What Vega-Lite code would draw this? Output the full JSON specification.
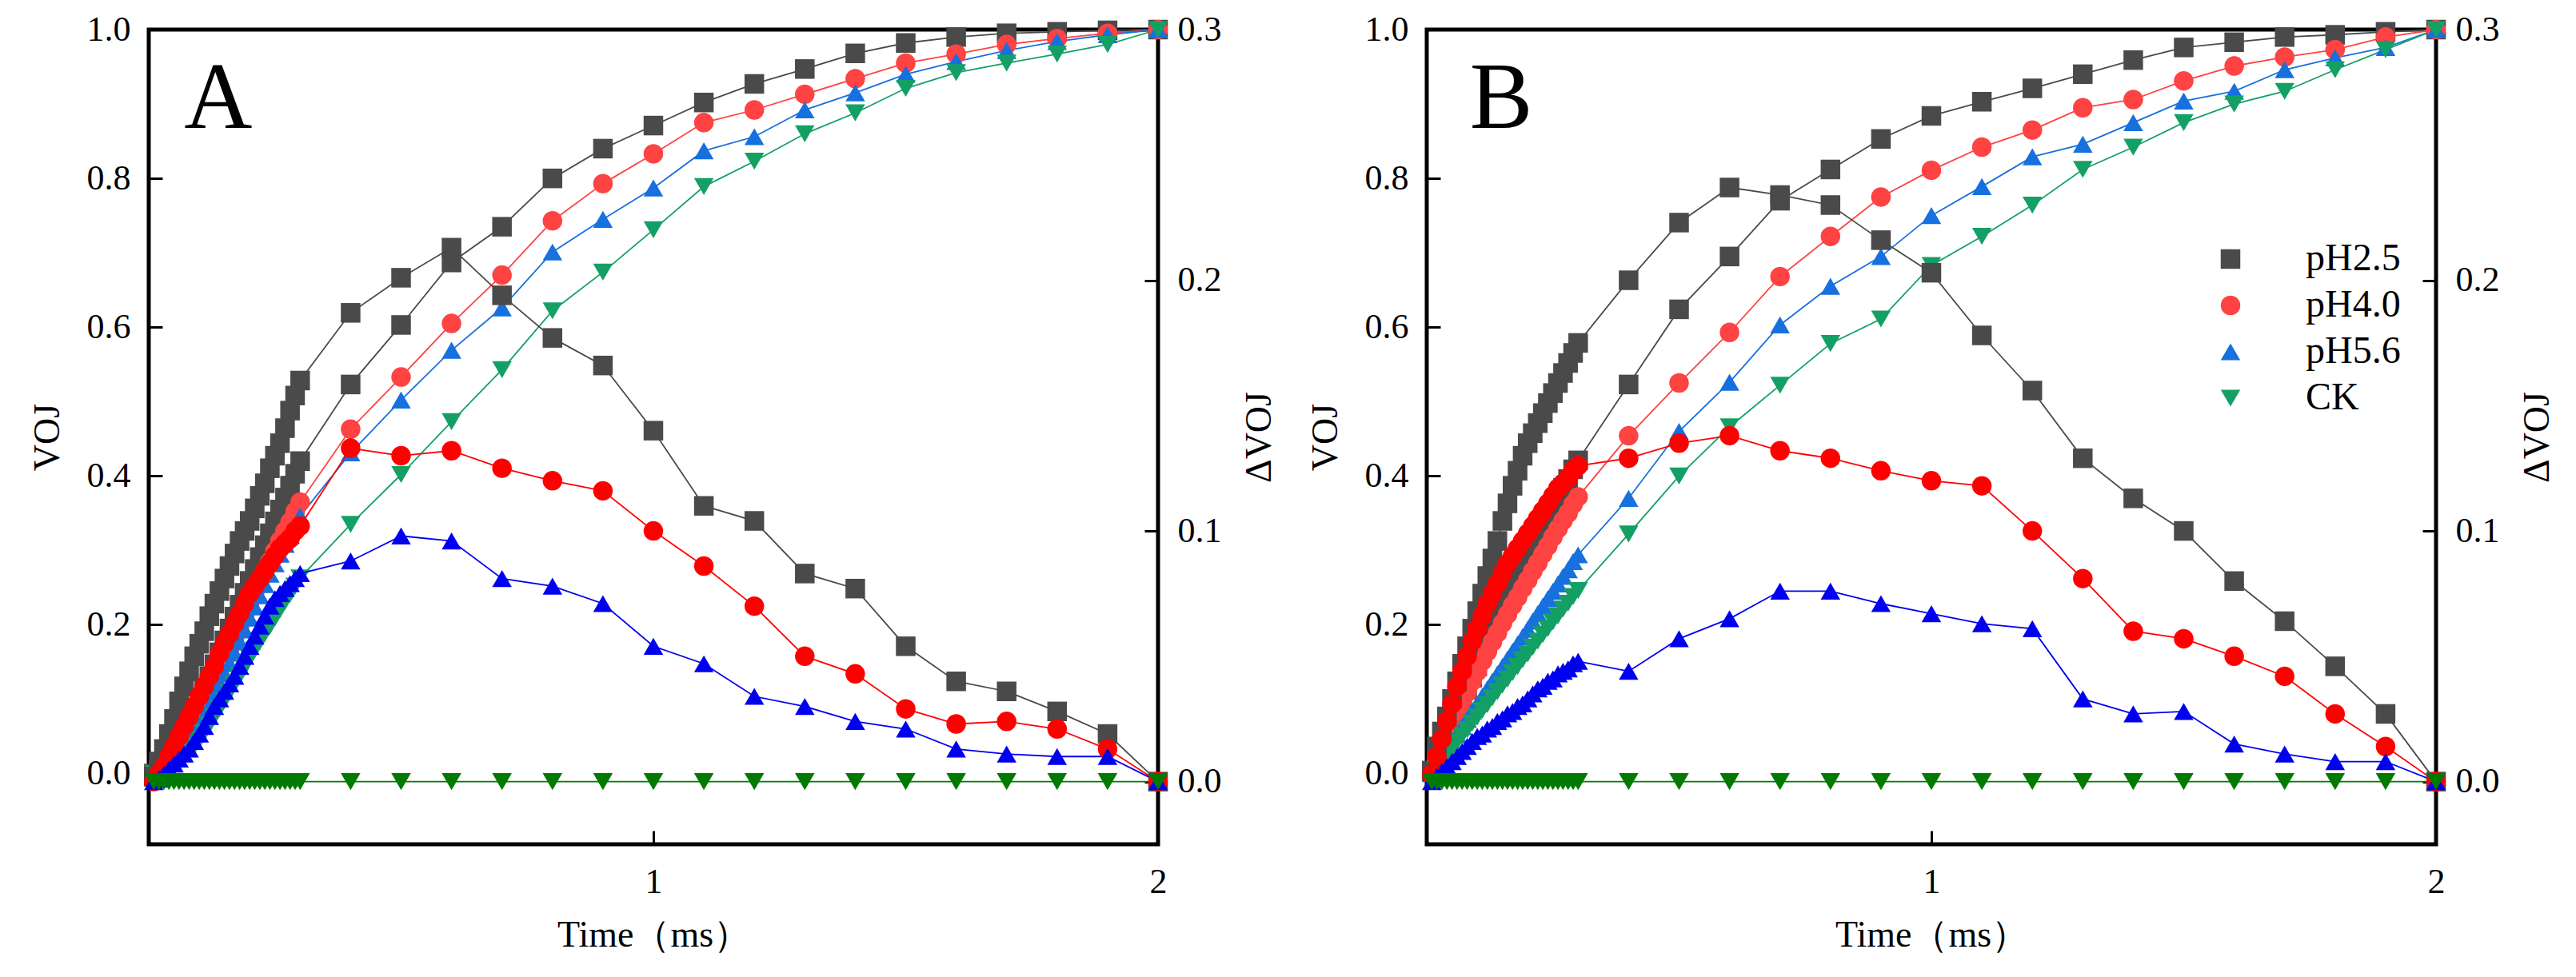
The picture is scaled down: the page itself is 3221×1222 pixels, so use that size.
{
  "$schema": "https://vega.github.io/schema/vega-lite/v6.json",
  "background": "white",
  "padding": {"left": 33, "top": 12, "right": 5, "bottom": 5},
  "config": {
    "view": {"stroke": "black", "strokeWidth": 5},
    "font": "Liberation Serif",
    "axis": {
      "domain": false, "grid": false,
      "tickColor": "black", "tickWidth": 3, "tickSize": -17,
      "labelFont": "Liberation Serif", "labelFontSize": 44, "labelColor": "black",
      "titleFont": "Liberation Serif", "titleFontSize": 46, "titleFontWeight": "normal", "titleColor": "black"
    },
    "text": {"font": "Liberation Serif"}
  },
  "datasets": {
    "ojip": [
      {"p":"A","s":"pH2.5","t":0.01,"v":0,"d":0.002},
      {"p":"A","s":"pH2.5","t":0.02,"v":0.006,"d":0.008},
      {"p":"A","s":"pH2.5","t":0.03,"v":0.014,"d":0.013},
      {"p":"A","s":"pH2.5","t":0.04,"v":0.026,"d":0.019},
      {"p":"A","s":"pH2.5","t":0.05,"v":0.038,"d":0.025},
      {"p":"A","s":"pH2.5","t":0.06,"v":0.05,"d":0.032},
      {"p":"A","s":"pH2.5","t":0.07,"v":0.062,"d":0.038},
      {"p":"A","s":"pH2.5","t":0.08,"v":0.074,"d":0.044},
      {"p":"A","s":"pH2.5","t":0.09,"v":0.087,"d":0.05},
      {"p":"A","s":"pH2.5","t":0.1,"v":0.1,"d":0.055},
      {"p":"A","s":"pH2.5","t":0.11,"v":0.115,"d":0.06},
      {"p":"A","s":"pH2.5","t":0.12,"v":0.131,"d":0.066},
      {"p":"A","s":"pH2.5","t":0.13,"v":0.147,"d":0.071},
      {"p":"A","s":"pH2.5","t":0.14,"v":0.163,"d":0.076},
      {"p":"A","s":"pH2.5","t":0.15,"v":0.179,"d":0.081},
      {"p":"A","s":"pH2.5","t":0.16,"v":0.195,"d":0.086},
      {"p":"A","s":"pH2.5","t":0.17,"v":0.211,"d":0.091},
      {"p":"A","s":"pH2.5","t":0.18,"v":0.227,"d":0.096},
      {"p":"A","s":"pH2.5","t":0.19,"v":0.243,"d":0.1},
      {"p":"A","s":"pH2.5","t":0.2,"v":0.259,"d":0.104},
      {"p":"A","s":"pH2.5","t":0.21,"v":0.275,"d":0.109},
      {"p":"A","s":"pH2.5","t":0.22,"v":0.291,"d":0.114},
      {"p":"A","s":"pH2.5","t":0.23,"v":0.307,"d":0.119},
      {"p":"A","s":"pH2.5","t":0.24,"v":0.323,"d":0.125},
      {"p":"A","s":"pH2.5","t":0.25,"v":0.339,"d":0.13},
      {"p":"A","s":"pH2.5","t":0.26,"v":0.355,"d":0.135},
      {"p":"A","s":"pH2.5","t":0.27,"v":0.371,"d":0.141},
      {"p":"A","s":"pH2.5","t":0.28,"v":0.387,"d":0.148},
      {"p":"A","s":"pH2.5","t":0.29,"v":0.403,"d":0.154},
      {"p":"A","s":"pH2.5","t":0.3,"v":0.42,"d":0.16},
      {"p":"A","s":"pH2.5","t":0.4,"v":0.523,"d":0.187},
      {"p":"A","s":"pH2.5","t":0.5,"v":0.603,"d":0.201},
      {"p":"A","s":"pH2.5","t":0.6,"v":0.687,"d":0.213},
      {"p":"A","s":"pH2.5","t":0.7,"v":0.735,"d":0.194},
      {"p":"A","s":"pH2.5","t":0.8,"v":0.8,"d":0.177},
      {"p":"A","s":"pH2.5","t":0.9,"v":0.84,"d":0.166},
      {"p":"A","s":"pH2.5","t":1.0,"v":0.871,"d":0.14},
      {"p":"A","s":"pH2.5","t":1.1,"v":0.902,"d":0.11},
      {"p":"A","s":"pH2.5","t":1.2,"v":0.927,"d":0.104},
      {"p":"A","s":"pH2.5","t":1.3,"v":0.947,"d":0.083},
      {"p":"A","s":"pH2.5","t":1.4,"v":0.968,"d":0.077},
      {"p":"A","s":"pH2.5","t":1.5,"v":0.982,"d":0.054},
      {"p":"A","s":"pH2.5","t":1.6,"v":0.99,"d":0.04},
      {"p":"A","s":"pH2.5","t":1.7,"v":0.995,"d":0.036},
      {"p":"A","s":"pH2.5","t":1.8,"v":0.997,"d":0.028},
      {"p":"A","s":"pH2.5","t":1.9,"v":0.999,"d":0.019},
      {"p":"A","s":"pH2.5","t":2.0,"v":1.0,"d":0},

      {"p":"A","s":"pH4.0","t":0.01,"v":0,"d":0},
      {"p":"A","s":"pH4.0","t":0.02,"v":0.005,"d":0.003},
      {"p":"A","s":"pH4.0","t":0.03,"v":0.011,"d":0.006},
      {"p":"A","s":"pH4.0","t":0.04,"v":0.019,"d":0.01},
      {"p":"A","s":"pH4.0","t":0.05,"v":0.027,"d":0.014},
      {"p":"A","s":"pH4.0","t":0.06,"v":0.036,"d":0.018},
      {"p":"A","s":"pH4.0","t":0.07,"v":0.046,"d":0.022},
      {"p":"A","s":"pH4.0","t":0.08,"v":0.056,"d":0.026},
      {"p":"A","s":"pH4.0","t":0.09,"v":0.067,"d":0.03},
      {"p":"A","s":"pH4.0","t":0.1,"v":0.079,"d":0.034},
      {"p":"A","s":"pH4.0","t":0.11,"v":0.093,"d":0.038},
      {"p":"A","s":"pH4.0","t":0.12,"v":0.107,"d":0.042},
      {"p":"A","s":"pH4.0","t":0.13,"v":0.122,"d":0.046},
      {"p":"A","s":"pH4.0","t":0.14,"v":0.138,"d":0.051},
      {"p":"A","s":"pH4.0","t":0.15,"v":0.153,"d":0.055},
      {"p":"A","s":"pH4.0","t":0.16,"v":0.168,"d":0.059},
      {"p":"A","s":"pH4.0","t":0.17,"v":0.183,"d":0.063},
      {"p":"A","s":"pH4.0","t":0.18,"v":0.198,"d":0.067},
      {"p":"A","s":"pH4.0","t":0.19,"v":0.214,"d":0.071},
      {"p":"A","s":"pH4.0","t":0.2,"v":0.23,"d":0.075},
      {"p":"A","s":"pH4.0","t":0.21,"v":0.244,"d":0.078},
      {"p":"A","s":"pH4.0","t":0.22,"v":0.258,"d":0.081},
      {"p":"A","s":"pH4.0","t":0.23,"v":0.272,"d":0.084},
      {"p":"A","s":"pH4.0","t":0.24,"v":0.285,"d":0.087},
      {"p":"A","s":"pH4.0","t":0.25,"v":0.299,"d":0.09},
      {"p":"A","s":"pH4.0","t":0.26,"v":0.313,"d":0.093},
      {"p":"A","s":"pH4.0","t":0.27,"v":0.326,"d":0.095},
      {"p":"A","s":"pH4.0","t":0.28,"v":0.338,"d":0.097},
      {"p":"A","s":"pH4.0","t":0.29,"v":0.352,"d":0.1},
      {"p":"A","s":"pH4.0","t":0.3,"v":0.365,"d":0.102},
      {"p":"A","s":"pH4.0","t":0.4,"v":0.463,"d":0.133},
      {"p":"A","s":"pH4.0","t":0.5,"v":0.533,"d":0.13},
      {"p":"A","s":"pH4.0","t":0.6,"v":0.605,"d":0.132},
      {"p":"A","s":"pH4.0","t":0.7,"v":0.67,"d":0.125},
      {"p":"A","s":"pH4.0","t":0.8,"v":0.743,"d":0.12},
      {"p":"A","s":"pH4.0","t":0.9,"v":0.793,"d":0.116},
      {"p":"A","s":"pH4.0","t":1.0,"v":0.833,"d":0.1},
      {"p":"A","s":"pH4.0","t":1.1,"v":0.875,"d":0.086},
      {"p":"A","s":"pH4.0","t":1.2,"v":0.892,"d":0.07},
      {"p":"A","s":"pH4.0","t":1.3,"v":0.913,"d":0.05},
      {"p":"A","s":"pH4.0","t":1.4,"v":0.934,"d":0.043},
      {"p":"A","s":"pH4.0","t":1.5,"v":0.955,"d":0.029},
      {"p":"A","s":"pH4.0","t":1.6,"v":0.967,"d":0.023},
      {"p":"A","s":"pH4.0","t":1.7,"v":0.98,"d":0.024},
      {"p":"A","s":"pH4.0","t":1.8,"v":0.988,"d":0.021},
      {"p":"A","s":"pH4.0","t":1.9,"v":0.995,"d":0.013},
      {"p":"A","s":"pH4.0","t":2.0,"v":1.0,"d":0},

      {"p":"A","s":"pH5.6","t":0.01,"v":0,"d":0},
      {"p":"A","s":"pH5.6","t":0.02,"v":0.003,"d":0.001},
      {"p":"A","s":"pH5.6","t":0.03,"v":0.008,"d":0.003},
      {"p":"A","s":"pH5.6","t":0.04,"v":0.014,"d":0.005},
      {"p":"A","s":"pH5.6","t":0.05,"v":0.02,"d":0.007},
      {"p":"A","s":"pH5.6","t":0.06,"v":0.027,"d":0.009},
      {"p":"A","s":"pH5.6","t":0.07,"v":0.035,"d":0.011},
      {"p":"A","s":"pH5.6","t":0.08,"v":0.043,"d":0.013},
      {"p":"A","s":"pH5.6","t":0.09,"v":0.053,"d":0.016},
      {"p":"A","s":"pH5.6","t":0.1,"v":0.064,"d":0.019},
      {"p":"A","s":"pH5.6","t":0.11,"v":0.077,"d":0.022},
      {"p":"A","s":"pH5.6","t":0.12,"v":0.091,"d":0.026},
      {"p":"A","s":"pH5.6","t":0.13,"v":0.106,"d":0.03},
      {"p":"A","s":"pH5.6","t":0.14,"v":0.12,"d":0.033},
      {"p":"A","s":"pH5.6","t":0.15,"v":0.134,"d":0.036},
      {"p":"A","s":"pH5.6","t":0.16,"v":0.148,"d":0.039},
      {"p":"A","s":"pH5.6","t":0.17,"v":0.162,"d":0.042},
      {"p":"A","s":"pH5.6","t":0.18,"v":0.177,"d":0.046},
      {"p":"A","s":"pH5.6","t":0.19,"v":0.193,"d":0.05},
      {"p":"A","s":"pH5.6","t":0.2,"v":0.209,"d":0.054},
      {"p":"A","s":"pH5.6","t":0.21,"v":0.224,"d":0.058},
      {"p":"A","s":"pH5.6","t":0.22,"v":0.239,"d":0.062},
      {"p":"A","s":"pH5.6","t":0.23,"v":0.254,"d":0.066},
      {"p":"A","s":"pH5.6","t":0.24,"v":0.268,"d":0.07},
      {"p":"A","s":"pH5.6","t":0.25,"v":0.282,"d":0.073},
      {"p":"A","s":"pH5.6","t":0.26,"v":0.295,"d":0.075},
      {"p":"A","s":"pH5.6","t":0.27,"v":0.308,"d":0.077},
      {"p":"A","s":"pH5.6","t":0.28,"v":0.32,"d":0.079},
      {"p":"A","s":"pH5.6","t":0.29,"v":0.333,"d":0.081},
      {"p":"A","s":"pH5.6","t":0.3,"v":0.346,"d":0.083},
      {"p":"A","s":"pH5.6","t":0.4,"v":0.431,"d":0.088},
      {"p":"A","s":"pH5.6","t":0.5,"v":0.502,"d":0.098},
      {"p":"A","s":"pH5.6","t":0.6,"v":0.569,"d":0.096},
      {"p":"A","s":"pH5.6","t":0.7,"v":0.626,"d":0.081},
      {"p":"A","s":"pH5.6","t":0.8,"v":0.701,"d":0.078},
      {"p":"A","s":"pH5.6","t":0.9,"v":0.745,"d":0.071},
      {"p":"A","s":"pH5.6","t":1.0,"v":0.787,"d":0.054},
      {"p":"A","s":"pH5.6","t":1.1,"v":0.837,"d":0.047},
      {"p":"A","s":"pH5.6","t":1.2,"v":0.856,"d":0.034},
      {"p":"A","s":"pH5.6","t":1.3,"v":0.892,"d":0.03},
      {"p":"A","s":"pH5.6","t":1.4,"v":0.915,"d":0.024},
      {"p":"A","s":"pH5.6","t":1.5,"v":0.94,"d":0.021},
      {"p":"A","s":"pH5.6","t":1.6,"v":0.957,"d":0.013},
      {"p":"A","s":"pH5.6","t":1.7,"v":0.972,"d":0.011},
      {"p":"A","s":"pH5.6","t":1.8,"v":0.984,"d":0.01},
      {"p":"A","s":"pH5.6","t":1.9,"v":0.993,"d":0.01},
      {"p":"A","s":"pH5.6","t":2.0,"v":1.0,"d":0},

      {"p":"A","s":"CK","t":0.01,"v":0,"d":0},
      {"p":"A","s":"CK","t":0.02,"v":0.002,"d":0},
      {"p":"A","s":"CK","t":0.03,"v":0.005,"d":0},
      {"p":"A","s":"CK","t":0.04,"v":0.009,"d":0},
      {"p":"A","s":"CK","t":0.05,"v":0.013,"d":0},
      {"p":"A","s":"CK","t":0.06,"v":0.018,"d":0},
      {"p":"A","s":"CK","t":0.07,"v":0.024,"d":0},
      {"p":"A","s":"CK","t":0.08,"v":0.03,"d":0},
      {"p":"A","s":"CK","t":0.09,"v":0.037,"d":0},
      {"p":"A","s":"CK","t":0.1,"v":0.045,"d":0},
      {"p":"A","s":"CK","t":0.11,"v":0.055,"d":0},
      {"p":"A","s":"CK","t":0.12,"v":0.065,"d":0},
      {"p":"A","s":"CK","t":0.13,"v":0.076,"d":0},
      {"p":"A","s":"CK","t":0.14,"v":0.087,"d":0},
      {"p":"A","s":"CK","t":0.15,"v":0.098,"d":0},
      {"p":"A","s":"CK","t":0.16,"v":0.109,"d":0},
      {"p":"A","s":"CK","t":0.17,"v":0.12,"d":0},
      {"p":"A","s":"CK","t":0.18,"v":0.131,"d":0},
      {"p":"A","s":"CK","t":0.19,"v":0.143,"d":0},
      {"p":"A","s":"CK","t":0.2,"v":0.155,"d":0},
      {"p":"A","s":"CK","t":0.21,"v":0.166,"d":0},
      {"p":"A","s":"CK","t":0.22,"v":0.177,"d":0},
      {"p":"A","s":"CK","t":0.23,"v":0.188,"d":0},
      {"p":"A","s":"CK","t":0.24,"v":0.198,"d":0},
      {"p":"A","s":"CK","t":0.25,"v":0.209,"d":0},
      {"p":"A","s":"CK","t":0.26,"v":0.22,"d":0},
      {"p":"A","s":"CK","t":0.27,"v":0.231,"d":0},
      {"p":"A","s":"CK","t":0.28,"v":0.241,"d":0},
      {"p":"A","s":"CK","t":0.29,"v":0.252,"d":0},
      {"p":"A","s":"CK","t":0.3,"v":0.263,"d":0},
      {"p":"A","s":"CK","t":0.4,"v":0.335,"d":0},
      {"p":"A","s":"CK","t":0.5,"v":0.402,"d":0},
      {"p":"A","s":"CK","t":0.6,"v":0.473,"d":0},
      {"p":"A","s":"CK","t":0.7,"v":0.543,"d":0},
      {"p":"A","s":"CK","t":0.8,"v":0.622,"d":0},
      {"p":"A","s":"CK","t":0.9,"v":0.674,"d":0},
      {"p":"A","s":"CK","t":1.0,"v":0.731,"d":0},
      {"p":"A","s":"CK","t":1.1,"v":0.789,"d":0},
      {"p":"A","s":"CK","t":1.2,"v":0.823,"d":0},
      {"p":"A","s":"CK","t":1.3,"v":0.86,"d":0},
      {"p":"A","s":"CK","t":1.4,"v":0.888,"d":0},
      {"p":"A","s":"CK","t":1.5,"v":0.921,"d":0},
      {"p":"A","s":"CK","t":1.6,"v":0.942,"d":0},
      {"p":"A","s":"CK","t":1.7,"v":0.955,"d":0},
      {"p":"A","s":"CK","t":1.8,"v":0.967,"d":0},
      {"p":"A","s":"CK","t":1.9,"v":0.98,"d":0},
      {"p":"A","s":"CK","t":2.0,"v":1.0,"d":0},

      {"p":"B","s":"pH2.5","t":0.01,"v":0.004,"d":0.004},
      {"p":"B","s":"pH2.5","t":0.02,"v":0.022,"d":0.014},
      {"p":"B","s":"pH2.5","t":0.03,"v":0.037,"d":0.02},
      {"p":"B","s":"pH2.5","t":0.04,"v":0.051,"d":0.026},
      {"p":"B","s":"pH2.5","t":0.05,"v":0.067,"d":0.033},
      {"p":"B","s":"pH2.5","t":0.06,"v":0.082,"d":0.04},
      {"p":"B","s":"pH2.5","t":0.07,"v":0.098,"d":0.047},
      {"p":"B","s":"pH2.5","t":0.08,"v":0.113,"d":0.054},
      {"p":"B","s":"pH2.5","t":0.09,"v":0.129,"d":0.061},
      {"p":"B","s":"pH2.5","t":0.1,"v":0.144,"d":0.068},
      {"p":"B","s":"pH2.5","t":0.11,"v":0.16,"d":0.075},
      {"p":"B","s":"pH2.5","t":0.12,"v":0.175,"d":0.082},
      {"p":"B","s":"pH2.5","t":0.13,"v":0.191,"d":0.089},
      {"p":"B","s":"pH2.5","t":0.14,"v":0.206,"d":0.096},
      {"p":"B","s":"pH2.5","t":0.15,"v":0.223,"d":0.104},
      {"p":"B","s":"pH2.5","t":0.16,"v":0.238,"d":0.111},
      {"p":"B","s":"pH2.5","t":0.17,"v":0.254,"d":0.118},
      {"p":"B","s":"pH2.5","t":0.18,"v":0.268,"d":0.124},
      {"p":"B","s":"pH2.5","t":0.19,"v":0.283,"d":0.13},
      {"p":"B","s":"pH2.5","t":0.2,"v":0.296,"d":0.135},
      {"p":"B","s":"pH2.5","t":0.21,"v":0.309,"d":0.139},
      {"p":"B","s":"pH2.5","t":0.22,"v":0.321,"d":0.143},
      {"p":"B","s":"pH2.5","t":0.23,"v":0.334,"d":0.147},
      {"p":"B","s":"pH2.5","t":0.24,"v":0.346,"d":0.151},
      {"p":"B","s":"pH2.5","t":0.25,"v":0.359,"d":0.155},
      {"p":"B","s":"pH2.5","t":0.26,"v":0.371,"d":0.159},
      {"p":"B","s":"pH2.5","t":0.27,"v":0.384,"d":0.163},
      {"p":"B","s":"pH2.5","t":0.28,"v":0.396,"d":0.167},
      {"p":"B","s":"pH2.5","t":0.29,"v":0.409,"d":0.171},
      {"p":"B","s":"pH2.5","t":0.3,"v":0.421,"d":0.175},
      {"p":"B","s":"pH2.5","t":0.4,"v":0.523,"d":0.2},
      {"p":"B","s":"pH2.5","t":0.5,"v":0.624,"d":0.223},
      {"p":"B","s":"pH2.5","t":0.6,"v":0.695,"d":0.237},
      {"p":"B","s":"pH2.5","t":0.7,"v":0.77,"d":0.234},
      {"p":"B","s":"pH2.5","t":0.8,"v":0.812,"d":0.23},
      {"p":"B","s":"pH2.5","t":0.9,"v":0.853,"d":0.216},
      {"p":"B","s":"pH2.5","t":1.0,"v":0.884,"d":0.203},
      {"p":"B","s":"pH2.5","t":1.1,"v":0.903,"d":0.178},
      {"p":"B","s":"pH2.5","t":1.2,"v":0.921,"d":0.156},
      {"p":"B","s":"pH2.5","t":1.3,"v":0.94,"d":0.129},
      {"p":"B","s":"pH2.5","t":1.4,"v":0.959,"d":0.113},
      {"p":"B","s":"pH2.5","t":1.5,"v":0.976,"d":0.1},
      {"p":"B","s":"pH2.5","t":1.6,"v":0.983,"d":0.08},
      {"p":"B","s":"pH2.5","t":1.7,"v":0.99,"d":0.064},
      {"p":"B","s":"pH2.5","t":1.8,"v":0.993,"d":0.046},
      {"p":"B","s":"pH2.5","t":1.9,"v":0.997,"d":0.027},
      {"p":"B","s":"pH2.5","t":2.0,"v":1.0,"d":0},

      {"p":"B","s":"pH4.0","t":0.01,"v":0.003,"d":0.003},
      {"p":"B","s":"pH4.0","t":0.02,"v":0.018,"d":0.01},
      {"p":"B","s":"pH4.0","t":0.03,"v":0.034,"d":0.017},
      {"p":"B","s":"pH4.0","t":0.04,"v":0.049,"d":0.024},
      {"p":"B","s":"pH4.0","t":0.05,"v":0.065,"d":0.031},
      {"p":"B","s":"pH4.0","t":0.06,"v":0.08,"d":0.038},
      {"p":"B","s":"pH4.0","t":0.07,"v":0.095,"d":0.044},
      {"p":"B","s":"pH4.0","t":0.08,"v":0.109,"d":0.05},
      {"p":"B","s":"pH4.0","t":0.09,"v":0.124,"d":0.056},
      {"p":"B","s":"pH4.0","t":0.1,"v":0.137,"d":0.061},
      {"p":"B","s":"pH4.0","t":0.11,"v":0.151,"d":0.066},
      {"p":"B","s":"pH4.0","t":0.12,"v":0.164,"d":0.071},
      {"p":"B","s":"pH4.0","t":0.13,"v":0.177,"d":0.075},
      {"p":"B","s":"pH4.0","t":0.14,"v":0.189,"d":0.079},
      {"p":"B","s":"pH4.0","t":0.15,"v":0.202,"d":0.083},
      {"p":"B","s":"pH4.0","t":0.16,"v":0.214,"d":0.087},
      {"p":"B","s":"pH4.0","t":0.17,"v":0.226,"d":0.09},
      {"p":"B","s":"pH4.0","t":0.18,"v":0.237,"d":0.093},
      {"p":"B","s":"pH4.0","t":0.19,"v":0.249,"d":0.096},
      {"p":"B","s":"pH4.0","t":0.2,"v":0.26,"d":0.099},
      {"p":"B","s":"pH4.0","t":0.21,"v":0.272,"d":0.102},
      {"p":"B","s":"pH4.0","t":0.22,"v":0.283,"d":0.105},
      {"p":"B","s":"pH4.0","t":0.23,"v":0.295,"d":0.108},
      {"p":"B","s":"pH4.0","t":0.24,"v":0.306,"d":0.111},
      {"p":"B","s":"pH4.0","t":0.25,"v":0.318,"d":0.114},
      {"p":"B","s":"pH4.0","t":0.26,"v":0.329,"d":0.117},
      {"p":"B","s":"pH4.0","t":0.27,"v":0.34,"d":0.119},
      {"p":"B","s":"pH4.0","t":0.28,"v":0.35,"d":0.121},
      {"p":"B","s":"pH4.0","t":0.29,"v":0.362,"d":0.124},
      {"p":"B","s":"pH4.0","t":0.3,"v":0.372,"d":0.126},
      {"p":"B","s":"pH4.0","t":0.4,"v":0.454,"d":0.129},
      {"p":"B","s":"pH4.0","t":0.5,"v":0.525,"d":0.135},
      {"p":"B","s":"pH4.0","t":0.6,"v":0.593,"d":0.138},
      {"p":"B","s":"pH4.0","t":0.7,"v":0.668,"d":0.132},
      {"p":"B","s":"pH4.0","t":0.8,"v":0.722,"d":0.129},
      {"p":"B","s":"pH4.0","t":0.9,"v":0.775,"d":0.124},
      {"p":"B","s":"pH4.0","t":1.0,"v":0.811,"d":0.12},
      {"p":"B","s":"pH4.0","t":1.1,"v":0.842,"d":0.118},
      {"p":"B","s":"pH4.0","t":1.2,"v":0.865,"d":0.1},
      {"p":"B","s":"pH4.0","t":1.3,"v":0.895,"d":0.081},
      {"p":"B","s":"pH4.0","t":1.4,"v":0.906,"d":0.06},
      {"p":"B","s":"pH4.0","t":1.5,"v":0.931,"d":0.057},
      {"p":"B","s":"pH4.0","t":1.6,"v":0.951,"d":0.05},
      {"p":"B","s":"pH4.0","t":1.7,"v":0.963,"d":0.042},
      {"p":"B","s":"pH4.0","t":1.8,"v":0.973,"d":0.027},
      {"p":"B","s":"pH4.0","t":1.9,"v":0.99,"d":0.014},
      {"p":"B","s":"pH4.0","t":2.0,"v":1.0,"d":0},

      {"p":"B","s":"pH5.6","t":0.01,"v":0,"d":0},
      {"p":"B","s":"pH5.6","t":0.02,"v":0.01,"d":0.002},
      {"p":"B","s":"pH5.6","t":0.03,"v":0.021,"d":0.004},
      {"p":"B","s":"pH5.6","t":0.04,"v":0.031,"d":0.006},
      {"p":"B","s":"pH5.6","t":0.05,"v":0.042,"d":0.008},
      {"p":"B","s":"pH5.6","t":0.06,"v":0.052,"d":0.01},
      {"p":"B","s":"pH5.6","t":0.07,"v":0.063,"d":0.012},
      {"p":"B","s":"pH5.6","t":0.08,"v":0.073,"d":0.014},
      {"p":"B","s":"pH5.6","t":0.09,"v":0.084,"d":0.016},
      {"p":"B","s":"pH5.6","t":0.1,"v":0.094,"d":0.018},
      {"p":"B","s":"pH5.6","t":0.11,"v":0.104,"d":0.019},
      {"p":"B","s":"pH5.6","t":0.12,"v":0.114,"d":0.021},
      {"p":"B","s":"pH5.6","t":0.13,"v":0.124,"d":0.022},
      {"p":"B","s":"pH5.6","t":0.14,"v":0.134,"d":0.024},
      {"p":"B","s":"pH5.6","t":0.15,"v":0.144,"d":0.025},
      {"p":"B","s":"pH5.6","t":0.16,"v":0.154,"d":0.027},
      {"p":"B","s":"pH5.6","t":0.17,"v":0.164,"d":0.028},
      {"p":"B","s":"pH5.6","t":0.18,"v":0.174,"d":0.03},
      {"p":"B","s":"pH5.6","t":0.19,"v":0.184,"d":0.031},
      {"p":"B","s":"pH5.6","t":0.2,"v":0.194,"d":0.033},
      {"p":"B","s":"pH5.6","t":0.21,"v":0.205,"d":0.035},
      {"p":"B","s":"pH5.6","t":0.22,"v":0.215,"d":0.037},
      {"p":"B","s":"pH5.6","t":0.23,"v":0.225,"d":0.038},
      {"p":"B","s":"pH5.6","t":0.24,"v":0.235,"d":0.04},
      {"p":"B","s":"pH5.6","t":0.25,"v":0.245,"d":0.041},
      {"p":"B","s":"pH5.6","t":0.26,"v":0.255,"d":0.043},
      {"p":"B","s":"pH5.6","t":0.27,"v":0.265,"d":0.044},
      {"p":"B","s":"pH5.6","t":0.28,"v":0.274,"d":0.045},
      {"p":"B","s":"pH5.6","t":0.29,"v":0.285,"d":0.047},
      {"p":"B","s":"pH5.6","t":0.3,"v":0.294,"d":0.048},
      {"p":"B","s":"pH5.6","t":0.4,"v":0.37,"d":0.044},
      {"p":"B","s":"pH5.6","t":0.5,"v":0.46,"d":0.057},
      {"p":"B","s":"pH5.6","t":0.6,"v":0.526,"d":0.065},
      {"p":"B","s":"pH5.6","t":0.7,"v":0.603,"d":0.076},
      {"p":"B","s":"pH5.6","t":0.8,"v":0.655,"d":0.076},
      {"p":"B","s":"pH5.6","t":0.9,"v":0.695,"d":0.071},
      {"p":"B","s":"pH5.6","t":1.0,"v":0.75,"d":0.067},
      {"p":"B","s":"pH5.6","t":1.1,"v":0.789,"d":0.063},
      {"p":"B","s":"pH5.6","t":1.2,"v":0.829,"d":0.061},
      {"p":"B","s":"pH5.6","t":1.3,"v":0.846,"d":0.033},
      {"p":"B","s":"pH5.6","t":1.4,"v":0.875,"d":0.027},
      {"p":"B","s":"pH5.6","t":1.5,"v":0.904,"d":0.028},
      {"p":"B","s":"pH5.6","t":1.6,"v":0.917,"d":0.015},
      {"p":"B","s":"pH5.6","t":1.7,"v":0.946,"d":0.011},
      {"p":"B","s":"pH5.6","t":1.8,"v":0.962,"d":0.008},
      {"p":"B","s":"pH5.6","t":1.9,"v":0.976,"d":0.008},
      {"p":"B","s":"pH5.6","t":2.0,"v":1.0,"d":0},

      {"p":"B","s":"CK","t":0.01,"v":0,"d":0},
      {"p":"B","s":"CK","t":0.02,"v":0.008,"d":0},
      {"p":"B","s":"CK","t":0.03,"v":0.017,"d":0},
      {"p":"B","s":"CK","t":0.04,"v":0.025,"d":0},
      {"p":"B","s":"CK","t":0.05,"v":0.034,"d":0},
      {"p":"B","s":"CK","t":0.06,"v":0.042,"d":0},
      {"p":"B","s":"CK","t":0.07,"v":0.051,"d":0},
      {"p":"B","s":"CK","t":0.08,"v":0.059,"d":0},
      {"p":"B","s":"CK","t":0.09,"v":0.068,"d":0},
      {"p":"B","s":"CK","t":0.1,"v":0.076,"d":0},
      {"p":"B","s":"CK","t":0.11,"v":0.085,"d":0},
      {"p":"B","s":"CK","t":0.12,"v":0.093,"d":0},
      {"p":"B","s":"CK","t":0.13,"v":0.102,"d":0},
      {"p":"B","s":"CK","t":0.14,"v":0.11,"d":0},
      {"p":"B","s":"CK","t":0.15,"v":0.119,"d":0},
      {"p":"B","s":"CK","t":0.16,"v":0.127,"d":0},
      {"p":"B","s":"CK","t":0.17,"v":0.136,"d":0},
      {"p":"B","s":"CK","t":0.18,"v":0.144,"d":0},
      {"p":"B","s":"CK","t":0.19,"v":0.153,"d":0},
      {"p":"B","s":"CK","t":0.2,"v":0.161,"d":0},
      {"p":"B","s":"CK","t":0.21,"v":0.17,"d":0},
      {"p":"B","s":"CK","t":0.22,"v":0.178,"d":0},
      {"p":"B","s":"CK","t":0.23,"v":0.187,"d":0},
      {"p":"B","s":"CK","t":0.24,"v":0.195,"d":0},
      {"p":"B","s":"CK","t":0.25,"v":0.204,"d":0},
      {"p":"B","s":"CK","t":0.26,"v":0.212,"d":0},
      {"p":"B","s":"CK","t":0.27,"v":0.221,"d":0},
      {"p":"B","s":"CK","t":0.28,"v":0.229,"d":0},
      {"p":"B","s":"CK","t":0.29,"v":0.238,"d":0},
      {"p":"B","s":"CK","t":0.3,"v":0.246,"d":0},
      {"p":"B","s":"CK","t":0.4,"v":0.322,"d":0},
      {"p":"B","s":"CK","t":0.5,"v":0.4,"d":0},
      {"p":"B","s":"CK","t":0.6,"v":0.466,"d":0},
      {"p":"B","s":"CK","t":0.7,"v":0.522,"d":0},
      {"p":"B","s":"CK","t":0.8,"v":0.578,"d":0},
      {"p":"B","s":"CK","t":0.9,"v":0.611,"d":0},
      {"p":"B","s":"CK","t":1.0,"v":0.683,"d":0},
      {"p":"B","s":"CK","t":1.1,"v":0.722,"d":0},
      {"p":"B","s":"CK","t":1.2,"v":0.764,"d":0},
      {"p":"B","s":"CK","t":1.3,"v":0.812,"d":0},
      {"p":"B","s":"CK","t":1.4,"v":0.842,"d":0},
      {"p":"B","s":"CK","t":1.5,"v":0.875,"d":0},
      {"p":"B","s":"CK","t":1.6,"v":0.9,"d":0},
      {"p":"B","s":"CK","t":1.7,"v":0.917,"d":0},
      {"p":"B","s":"CK","t":1.8,"v":0.946,"d":0},
      {"p":"B","s":"CK","t":1.9,"v":0.973,"d":0},
      {"p":"B","s":"CK","t":2.0,"v":1.0,"d":0}
    ]
  },
  "spacing": 336,
  "bounds": "flush",
  "resolve": {"scale": {"color": "independent", "shape": "independent"}},
  "hconcat": [
    {
      "width": 1262,
      "height": 1019,
      "data": {"name": "ojip"},
      "transform": [{"filter": "datum.p === 'A'"}],
      "encoding": {
        "x": {"field": "t", "type": "quantitative",
              "scale": {"domain": [0, 2], "nice": false, "zero": false},
              "axis": {"values": [1, 2], "format": "d", "title": "Time（ms）", "labelFont": "Liberation Serif", "titleFont": "Liberation Serif", "labelFlush": false, "labelPadding": 42, "titlePadding": 22}}
      },
      "layer": [
        {
          "encoding": {
            "y": {"field": "v", "type": "quantitative",
                  "scale": {"domain": [-0.095, 1], "nice": false, "zero": false},
                  "axis": {"orient": "left", "values": [0, 0.2, 0.4, 0.6, 0.8, 1], "format": ".1f", "title": "VOJ", "labelFont": "Liberation Serif", "titleFont": "Liberation Serif", "labelPadding": 40, "titlePadding": 25}},
            "color": {"field": "s", "type": "nominal", "legend": null,
                      "scale": {"domain": ["pH2.5", "pH4.0", "pH5.6", "CK"], "range": ["#4a4a4a", "#ff4242", "#1670de", "#14a065"]}},
            "shape": {"field": "s", "type": "nominal", "legend": null,
                      "scale": {"domain": ["pH2.5", "pH4.0", "pH5.6", "CK"], "range": ["square", "circle", "triangle-up", "triangle-down"]}}
          },
          "layer": [
            {"mark": {"type": "line", "strokeWidth": 1.8}},
            {"mark": {"type": "point", "filled": true, "opacity": 1, "size": 600, "strokeWidth": 0}},
            {"transform": [{"filter": "datum.s === 'CK' && datum.t === 2"}],
             "mark": {"type": "text", "text": "A", "font": "Liberation Serif", "fontSize": 118, "align": "left", "baseline": "alphabetic", "fill": "black"},
             "encoding": {"x": {"datum": 0.07}, "y": {"datum": 0.868}, "color": {"value": "black"}}}
          ]
        },
        {
          "encoding": {
            "y": {"field": "d", "type": "quantitative",
                  "scale": {"domain": [-0.025, 0.3], "nice": false, "zero": false},
                  "axis": {"orient": "right", "values": [0, 0.1, 0.2, 0.3], "format": ".1f", "title": "ΔVOJ", "labelFont": "Liberation Serif", "titleFont": "Liberation Serif", "titleAngle": 270, "titleBaseline": "top", "labelPadding": 41, "titlePadding": 25}},
            "color": {"field": "s", "type": "nominal", "legend": null,
                      "scale": {"domain": ["pH2.5", "pH4.0", "pH5.6", "CK"], "range": ["#4a4a4a", "#ff0000", "#0000f0", "#007a00"]}},
            "shape": {"field": "s", "type": "nominal", "legend": null,
                      "scale": {"domain": ["pH2.5", "pH4.0", "pH5.6", "CK"], "range": ["square", "circle", "triangle-up", "triangle-down"]}}
          },
          "layer": [
            {"mark": {"type": "line", "strokeWidth": 1.8}},
            {"mark": {"type": "point", "filled": true, "opacity": 1, "size": 600, "strokeWidth": 0}}
          ]
        }
      ],
      "resolve": {"scale": {"y": "independent", "color": "independent", "shape": "independent"}}
    },
    {
      "width": 1262,
      "height": 1019,
      "data": {"name": "ojip"},
      "transform": [{"filter": "datum.p === 'B'"}],
      "encoding": {
        "x": {"field": "t", "type": "quantitative",
              "scale": {"domain": [0, 2], "nice": false, "zero": false},
              "axis": {"values": [1, 2], "format": "d", "title": "Time（ms）", "labelFont": "Liberation Serif", "titleFont": "Liberation Serif", "labelFlush": false, "labelPadding": 42, "titlePadding": 22}}
      },
      "layer": [
        {
          "encoding": {
            "y": {"field": "v", "type": "quantitative",
                  "scale": {"domain": [-0.095, 1], "nice": false, "zero": false},
                  "axis": {"orient": "left", "values": [0, 0.2, 0.4, 0.6, 0.8, 1], "format": ".1f", "title": "VOJ", "labelFont": "Liberation Serif", "titleFont": "Liberation Serif", "labelPadding": 40, "titlePadding": 25}},
            "color": {"field": "s", "type": "nominal",
                      "scale": {"domain": ["pH2.5", "pH4.0", "pH5.6", "CK"], "range": ["#4a4a4a", "#ff4242", "#1670de", "#14a065"]},
                      "legend": {"title": null, "orient": "none", "legendX": 981, "legendY": 263, "padding": 0,
                                 "symbolSize": 600, "symbolStrokeWidth": 0, "labelFont": "Liberation Serif", "labelFontSize": 48,
                                 "labelColor": "black", "labelOffset": 70, "rowPadding": 10}},
            "shape": {"field": "s", "type": "nominal",
                      "scale": {"domain": ["pH2.5", "pH4.0", "pH5.6", "CK"], "range": ["square", "circle", "triangle-up", "triangle-down"]},
                      "legend": {"title": null, "orient": "none", "legendX": 981, "legendY": 263, "padding": 0,
                                 "symbolSize": 600, "symbolStrokeWidth": 0, "labelFont": "Liberation Serif", "labelFontSize": 48,
                                 "labelColor": "black", "labelOffset": 70, "rowPadding": 10}}
          },
          "layer": [
            {"mark": {"type": "line", "strokeWidth": 1.8}},
            {"mark": {"type": "point", "filled": true, "opacity": 1, "size": 600, "strokeWidth": 0}},
            {"transform": [{"filter": "datum.s === 'CK' && datum.t === 2"}],
             "mark": {"type": "text", "text": "B", "font": "Liberation Serif", "fontSize": 118, "align": "left", "baseline": "alphabetic", "fill": "black"},
             "encoding": {"x": {"datum": 0.085}, "y": {"datum": 0.868}, "color": {"value": "black"}}}
          ]
        },
        {
          "encoding": {
            "y": {"field": "d", "type": "quantitative",
                  "scale": {"domain": [-0.025, 0.3], "nice": false, "zero": false},
                  "axis": {"orient": "right", "values": [0, 0.1, 0.2, 0.3], "format": ".1f", "title": "ΔVOJ", "labelFont": "Liberation Serif", "titleFont": "Liberation Serif", "titleAngle": 270, "titleBaseline": "top", "labelPadding": 41, "titlePadding": 25}},
            "color": {"field": "s", "type": "nominal", "legend": null,
                      "scale": {"domain": ["pH2.5", "pH4.0", "pH5.6", "CK"], "range": ["#4a4a4a", "#ff0000", "#0000f0", "#007a00"]}},
            "shape": {"field": "s", "type": "nominal", "legend": null,
                      "scale": {"domain": ["pH2.5", "pH4.0", "pH5.6", "CK"], "range": ["square", "circle", "triangle-up", "triangle-down"]}}
          },
          "layer": [
            {"mark": {"type": "line", "strokeWidth": 1.8}},
            {"mark": {"type": "point", "filled": true, "opacity": 1, "size": 600, "strokeWidth": 0}}
          ]
        }
      ],
      "resolve": {"scale": {"y": "independent", "color": "independent", "shape": "independent"}}
    }
  ]
}
